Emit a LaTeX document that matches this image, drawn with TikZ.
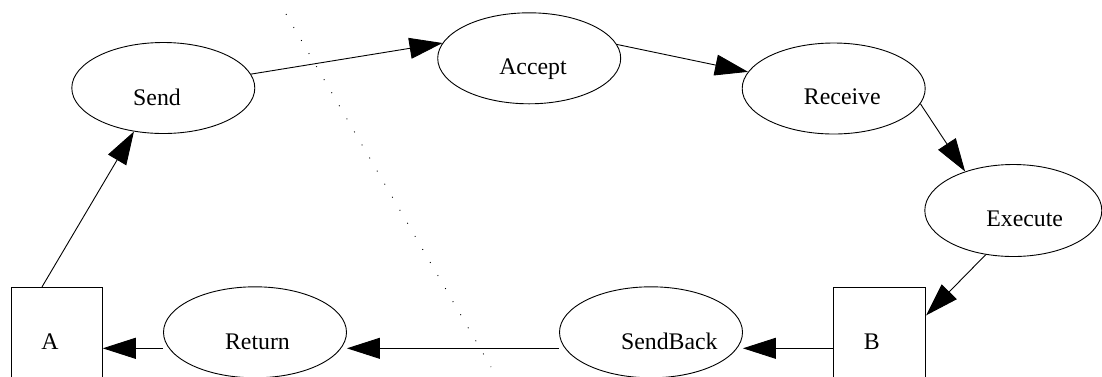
\documentclass[tikz,border=0pt]{standalone}
\usepackage{fontspec}
\setmainfont{Liberation Serif}
\usetikzlibrary{arrows.meta,shapes.geometric}
\begin{document}
\begin{tikzpicture}[x=1pt,y=-1pt,
  ell/.style={draw,ellipse,line width=0.9pt,inner sep=0pt,minimum width=183pt,minimum height=91pt},
  boxnode/.style={draw,rectangle,line width=0.9pt,inner sep=0pt,minimum width=91pt,minimum height=90pt},
  lbl/.style={anchor=base,inner sep=0pt,font=\fontsize{23.8}{28}\selectfont},
  conn/.style={line width=0.9pt,-{Triangle[length=33pt,width=21pt]}},
  sep/.style={line width=0.9pt,dash pattern=on 0.9pt off 14.2pt}]
\useasboundingbox (0,0) rectangle (1102,376);
\clip (0,0) rectangle (1102,376);
% nodes
\node[ell] (Send) at (163.3,88) {};
\node[ell] (Accept) at (529.2,58.3) {};
\node[ell] (Receive) at (833.7,88.5) {};
\node[ell,minimum width=177pt,minimum height=92pt] (Execute) at (1013.3,210.5) {};
\node[ell] (Return) at (255,332.3) {};
\node[ell] (SendBack) at (651,332.3) {};
\node[boxnode] (A) at (56.8,332.3) {};
\node[boxnode,minimum width=92.4pt] (B) at (879.5,332.3) {};
% labels
\node[lbl] (tSend) at (157,105) {Send};
\node[lbl] (tAccept) at (533,74) {Accept};
\node[lbl] (tReceive) at (842.3,104.3) {Receive};
\node[lbl] (tExecute) at (1024.7,226.7) {Execute};
\node[lbl] (tReturn) at (257.5,349.3) {Return};
\node[lbl] (tSendBack) at (669.3,349.3) {SendBack};
\node[lbl] (tA) at (50,349.3) {A};
\node[lbl] (tB) at (871.7,349.3) {B};
% separator
\coordinate (d1) at (286,14);
\coordinate (d2) at (491,367);
\draw[sep] (d1) -- (d2);
% lower row level
\coordinate (low) at (0,348.3);
% connectors
\draw[conn] (A.108.3) -- (Send.236.9);
\draw[conn] (Send.9.5) -- (Accept.170.4);
\draw[conn] (Accept.9.3) -- (Receive.169.8);
\draw[conn] (Receive.-10.2) -- (Execute.141);
\draw[conn] (Execute.238.5) -- (B.20.4);
\draw[conn] (B.west |- low) -- (SendBack.east |- low);
\draw[conn] (SendBack.west |- low) -- (Return.east |- low);
\draw[conn] (Return.west |- low) -- (A.east |- low);
\end{tikzpicture}
\end{document}
